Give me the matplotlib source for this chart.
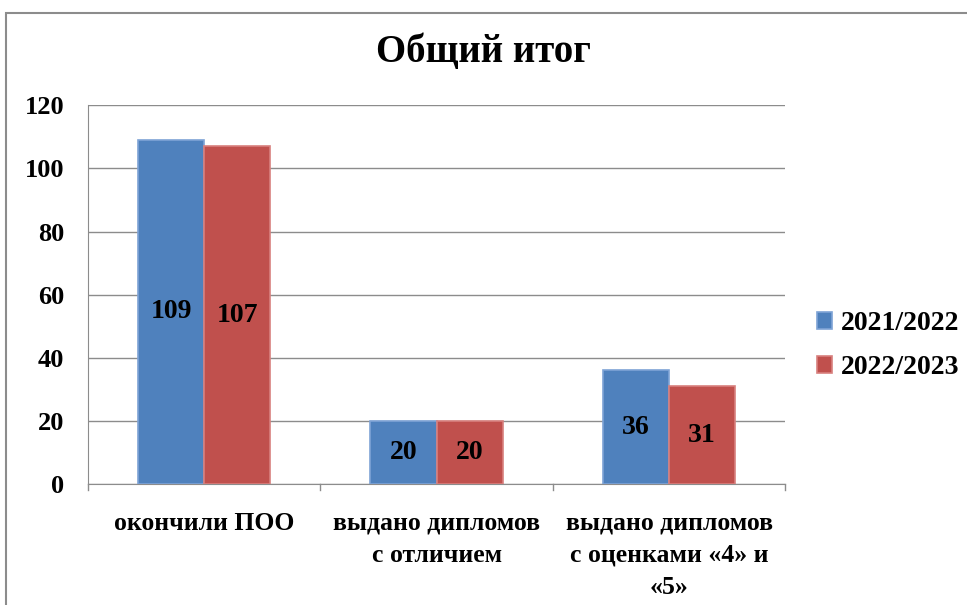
import matplotlib.pyplot as plt
import numpy as np
from matplotlib.patches import Rectangle

categories = ["окончили ПОО", "выдано дипломов\nс отличием", "выдано дипломов\nс оценками «4» и\n«5»"]
series_names = ["2021/2022", "2022/2023"]
values_2122 = [109, 20, 36]
values_2223 = [107, 20, 31]
yticks = [0, 20, 40, 60, 80, 100, 120]

plt.rcParams["font.family"] = ["Liberation Serif", "DejaVu Serif"]
plt.rcParams["font.weight"] = "bold"

fig = plt.figure(figsize=(9.67, 6.05), dpi=100)
ax = fig.add_axes([0.091, 0.2, 0.721, 0.626])

# frame around the chart area
fig.patches.append(Rectangle((0.006, -0.1), 1.2, 1.078, transform=fig.transFigure,
                             fill=False, edgecolor="#8c8c8c", linewidth=1.5))

x = np.arange(len(categories))
w = 0.285
colors = ["#4f81bd", "#c0504d"]
edges = ["#7ea3d6", "#d8807e"]
for i, vals in enumerate([values_2122, values_2223]):
    pos = x - w / 2 + i * w
    bars = ax.bar(pos, vals, width=w, color=colors[i], edgecolor=edges[i],
                  linewidth=1.2, label=series_names[i], zorder=3)
    for b, v in zip(bars, vals):
        ax.text(b.get_x() + b.get_width() / 2, v / 2, str(v), ha="center", va="center",
                fontsize=20, fontweight="bold", zorder=4)

ax.set_xlim(-0.5, len(categories) - 0.5)
ax.set_ylim(0, 120)
ax.set_yticks(yticks)
ax.set_yticklabels([str(t) for t in yticks], fontsize=19, fontweight="bold")
ax.tick_params(axis="y", length=0, pad=17)
ax.yaxis.grid(True, color="#8c8c8c", linewidth=1)
ax.set_axisbelow(True)

ax.set_xticks(x)
ax.set_xticklabels(categories, fontsize=18.5, fontweight="bold", linespacing=1.5, va="top")
ax.tick_params(axis="x", length=0, pad=20)
# boundary ticks between categories
for b in np.arange(-0.5, len(categories), 1.0):
    ax.plot([b, b], [0, -2], color="#8c8c8c", linewidth=1, clip_on=False)

for s in ["top", "right"]:
    ax.spines[s].set_visible(False)
ax.spines["left"].set_color("#8c8c8c")
ax.spines["bottom"].set_color("#8c8c8c")

fig.text(0.5, 0.913, "Общий итог", ha="center", va="center", fontsize=28, fontweight="bold")

leg = ax.legend(loc="center left", bbox_to_anchor=(1.01, 0.365), frameon=False,
                fontsize=20, handlelength=0.55, handleheight=0.55, handletextpad=0.3,
                labelspacing=0.7)

fig.savefig("out.png", dpi=100)
